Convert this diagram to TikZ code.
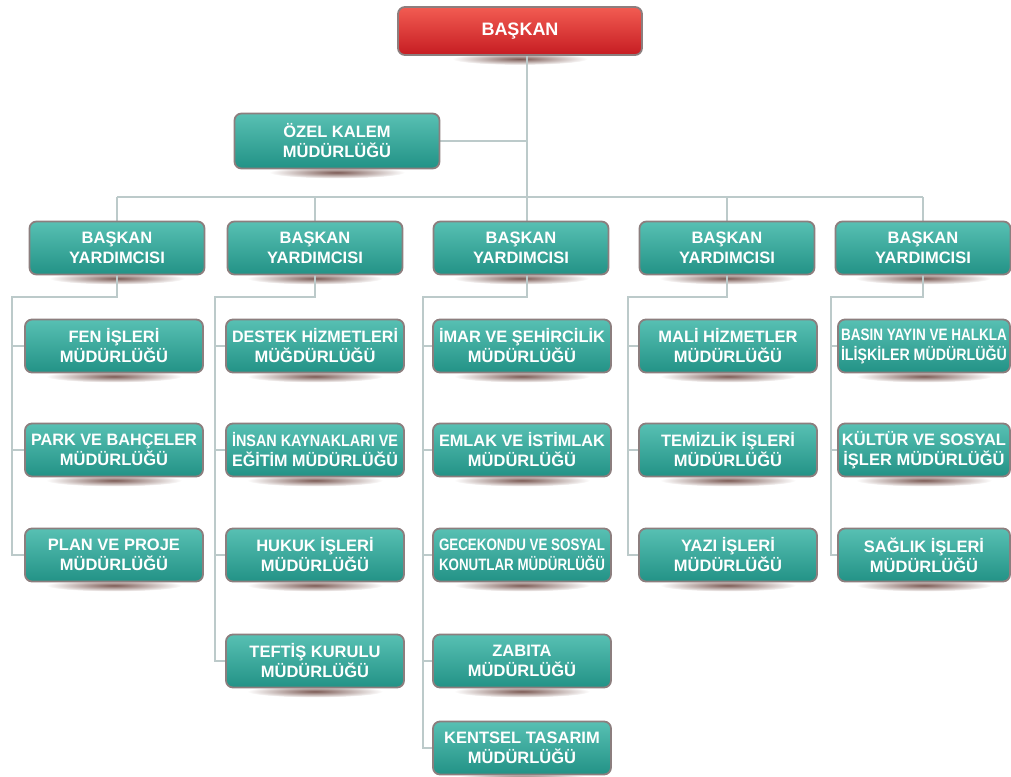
\documentclass[tikz,border=0pt]{standalone}
\usepackage{fontspec}
\setmainfont{Liberation Sans}
\usetikzlibrary{backgrounds}
\definecolor{tealtop}{RGB}{88,192,179}
\definecolor{tealbot}{RGB}{34,146,134}
\definecolor{rimcol}{RGB}{140,126,126}
\definecolor{linecol}{RGB}{188,202,202}
\definecolor{redtop}{RGB}{242,92,82}
\definecolor{redbot}{RGB}{198,28,34}
\definecolor{shadowcol}{RGB}{125,92,86}
\newsavebox\lblbox
\newcommand\fitl[1]{\sbox\lblbox{#1}\ifdim\wd\lblbox>166pt\resizebox{166pt}{\height}{\usebox\lblbox}\else\usebox\lblbox\fi}
\tikzset{
  orgbox/.style={draw=rimcol, line width=1.8pt, rounded corners=7pt,
    top color=tealtop, bottom color=tealbot, text=white, inner sep=0pt,
    minimum width=178pt, minimum height=53pt, align=center,
    font=\fontsize{16.5}{20}\selectfont\bfseries},
  vpbox/.style={orgbox, minimum width=175pt},
  redbox/.style={orgbox, top color=redtop, bottom color=redbot,
    minimum width=244pt, minimum height=48pt,
    font=\fontsize{18}{21}\selectfont\bfseries},
  conn/.style={draw=linecol, line width=1.2pt}
}
\begin{document}
\begin{tikzpicture}[x=1pt,y=-1pt]
\useasboundingbox (0,0) rectangle (1011,776);
% top
\node[redbox] (bas) at (520,31) {BAŞKAN};
\node[orgbox, minimum width=205pt, minimum height=55pt] (ozel) at (337,141) {ÖZEL KALEM\\MÜDÜRLÜĞÜ};
% vice presidents
\node[vpbox] (v1) at (117,248) {BAŞKAN\\YARDIMCISI};
\node[vpbox] (v2) at (315,248) {BAŞKAN\\YARDIMCISI};
\node[vpbox] (v3) at (521,248) {BAŞKAN\\YARDIMCISI};
\node[vpbox] (v4) at (727,248) {BAŞKAN\\YARDIMCISI};
\node[vpbox] (v5) at (923,248) {BAŞKAN\\YARDIMCISI};
% column 1
\node[orgbox] (a1) at (114,346) {\fitl{FEN İŞLERİ}\\\fitl{MÜDÜRLÜĞÜ}};
\node[orgbox] (a2) at (114,450) {\fitl{PARK VE BAHÇELER}\\\fitl{MÜDÜRLÜĞÜ}};
\node[orgbox] (a3) at (114,555) {\fitl{PLAN VE PROJE}\\\fitl{MÜDÜRLÜĞÜ}};
% column 2
\node[orgbox] (b1) at (315,346) {\fitl{DESTEK HİZMETLERİ}\\\fitl{MÜĞDÜRLÜĞÜ}};
\node[orgbox] (b2) at (315,450) {\fitl{İNSAN KAYNAKLARI VE}\\\fitl{EĞİTİM MÜDÜRLÜĞÜ}};
\node[orgbox] (b3) at (315,555) {\fitl{HUKUK İŞLERİ}\\\fitl{MÜDÜRLÜĞÜ}};
\node[orgbox] (b4) at (315,661) {\fitl{TEFTİŞ KURULU}\\\fitl{MÜDÜRLÜĞÜ}};
% column 3
\node[orgbox] (c1) at (522,346) {\fitl{İMAR VE ŞEHİRCİLİK}\\\fitl{MÜDÜRLÜĞÜ}};
\node[orgbox] (c2) at (522,450) {\fitl{EMLAK VE İSTİMLAK}\\\fitl{MÜDÜRLÜĞÜ}};
\node[orgbox] (c3) at (522,555) {\fitl{GECEKONDU VE SOSYAL}\\\fitl{KONUTLAR MÜDÜRLÜĞÜ}};
\node[orgbox] (c4) at (522,661) {\fitl{ZABITA}\\\fitl{MÜDÜRLÜĞÜ}};
\node[orgbox] (c5) at (522,748) {\fitl{KENTSEL TASARIM}\\\fitl{MÜDÜRLÜĞÜ}};
% column 4
\node[orgbox] (d1) at (728,346) {\fitl{MALİ HİZMETLER}\\\fitl{MÜDÜRLÜĞÜ}};
\node[orgbox] (d2) at (728,450) {\fitl{TEMİZLİK İŞLERİ}\\\fitl{MÜDÜRLÜĞÜ}};
\node[orgbox] (d3) at (728,555) {\fitl{YAZI İŞLERİ}\\\fitl{MÜDÜRLÜĞÜ}};
% column 5
\node[orgbox, minimum width=172pt] (e1) at (924,346) {\fitl{BASIN YAYIN VE HALKLA}\\\fitl{İLİŞKİLER MÜDÜRLÜĞÜ}};
\node[orgbox, minimum width=172pt] (e2) at (924,450) {\fitl{KÜLTÜR VE SOSYAL}\\\fitl{İŞLER MÜDÜRLÜĞÜ}};
\node[orgbox, minimum width=172pt] (e3) at (924,555) {\fitl{SAĞLIK İŞLERİ}\\\fitl{MÜDÜRLÜĞÜ}};
% helper coordinates
\coordinate (t) at (527,197);
\coordinate (s1) at (12,297);
\coordinate (s2) at (215,297);
\coordinate (s3) at (423,297);
\coordinate (s4) at (628,297);
\coordinate (s5) at (831,297);
\begin{scope}[on background layer]
  % shadows
  \foreach \n in {bas,ozel,v1,v2,v3,v4,v5,a1,a2,a3,b1,b2,b3,b4,c1,c2,c3,c4,c5,d1,d2,d3,e1,e2,e3}
    \shade[inner color=shadowcol, outer color=white] ([yshift=-3pt]\n.south) ellipse (68 and 6);
  % trunk and bus
  \draw[conn] (bas.south -| t) -- (t) -- (t |- v3.north);
  \draw[conn] (ozel.east) -- (ozel.east -| t);
  \draw[conn] (v1.north |- t) -- (v5.north |- t);
  \draw[conn] (v1.north) -- (v1.north |- t);
  \draw[conn] (v2.north) -- (v2.north |- t);
  \draw[conn] (v4.north) -- (v4.north |- t);
  \draw[conn] (v5.north) -- (v5.north |- t);
  % column 1
  \draw[conn] (v1.south) -- (v1.south |- s1) -- (s1) -- (s1 |- a3.west) -- (a3.west);
  \draw[conn] (s1 |- a1.west) -- (a1.west);
  \draw[conn] (s1 |- a2.west) -- (a2.west);
  % column 2
  \draw[conn] (v2.south) -- (v2.south |- s2) -- (s2) -- (s2 |- b4.west) -- (b4.west);
  \draw[conn] (s2 |- b1.west) -- (b1.west);
  \draw[conn] (s2 |- b2.west) -- (b2.west);
  \draw[conn] (s2 |- b3.west) -- (b3.west);
  % column 3
  \draw[conn] (v3.south -| t) -- (t |- s3) -- (s3) -- (s3 |- c5.west) -- (c5.west);
  \draw[conn] (s3 |- c1.west) -- (c1.west);
  \draw[conn] (s3 |- c2.west) -- (c2.west);
  \draw[conn] (s3 |- c3.west) -- (c3.west);
  \draw[conn] (s3 |- c4.west) -- (c4.west);
  % column 4
  \draw[conn] (v4.south) -- (v4.south |- s4) -- (s4) -- (s4 |- d3.west) -- (d3.west);
  \draw[conn] (s4 |- d1.west) -- (d1.west);
  \draw[conn] (s4 |- d2.west) -- (d2.west);
  % column 5
  \draw[conn] (v5.south) -- (v5.south |- s5) -- (s5) -- (s5 |- e3.west) -- (e3.west);
  \draw[conn] (s5 |- e1.west) -- (e1.west);
  \draw[conn] (s5 |- e2.west) -- (e2.west);
\end{scope}
\end{tikzpicture}
\end{document}
